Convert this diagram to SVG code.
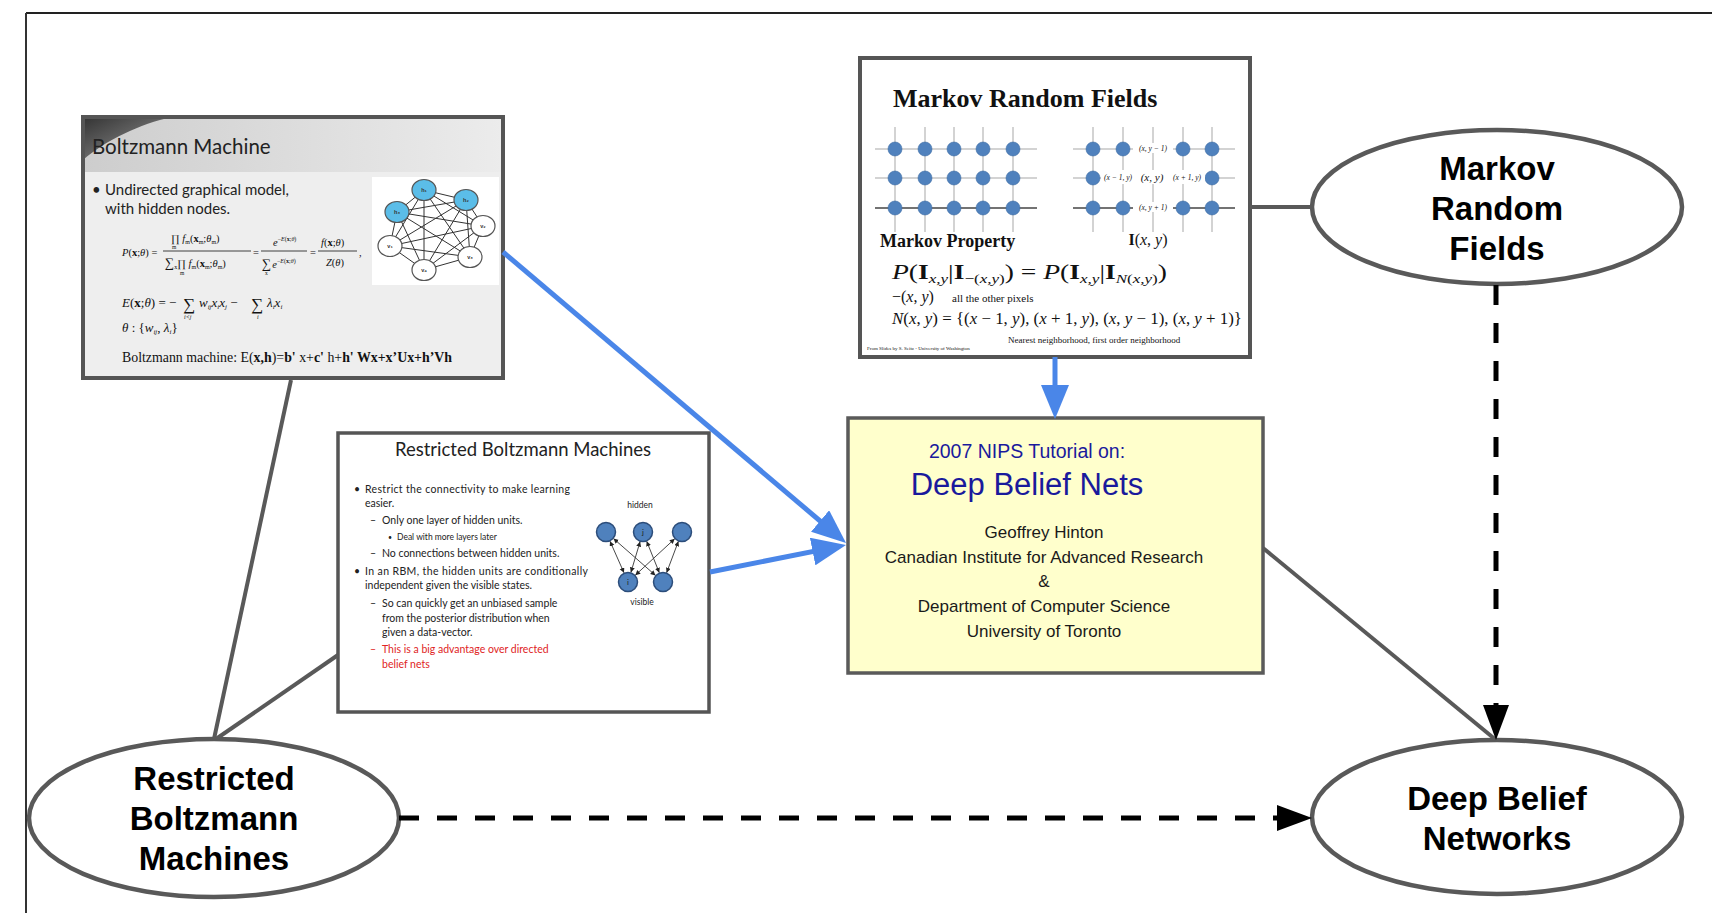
<svg xmlns="http://www.w3.org/2000/svg" width="1712" height="913" viewBox="0 0 1712 913">
<defs>
<style>
.box{fill:none;stroke:#555;stroke-width:4}
.ell{fill:#fff;stroke:#595959;stroke-width:4.5}
.elab{font-family:"Liberation Sans",Arial,sans-serif;font-weight:bold;font-size:33px;fill:#000;text-anchor:middle}
.gray{stroke:#595959;stroke-width:4;fill:none}
.blue{stroke:#4a86e8;stroke-width:5;fill:none}
.dash{stroke:#000;stroke-width:5;stroke-dasharray:20 18;fill:none}
.cal{font-family:Lato,"Open Sans",sans-serif;fill:#222}
.ser{font-family:"Liberation Serif","Times New Roman",serif;fill:#111}
.ar{font-family:"Liberation Sans",Arial,sans-serif}
.it{font-style:italic}
.bd{font-weight:bold}
.gl{stroke:#c4c4c4;stroke-width:1.5}
.gd{stroke:#444;stroke-width:1.5}
.dot{fill:#4f81bd;stroke:#3d6ba3;stroke-width:0.6}
.bmn{stroke:#555;stroke-width:1.2}
.bme{stroke:#333;stroke-width:1}
.rbmn{fill:#4f81bd;stroke:#2c4d7a;stroke-width:1.5}
.rbme{stroke:#333;stroke-width:0.9;fill:none}
</style>
<linearGradient id="bmTitle" x1="0" y1="0" x2="1" y2="0">
<stop offset="0" stop-color="#cdcdcd"/><stop offset="1" stop-color="#ececec"/>
</linearGradient>
<linearGradient id="bmSwoosh" x1="0" y1="0" x2="1" y2="1">
<stop offset="0" stop-color="#333"/><stop offset="1" stop-color="#9a9a9a"/>
</linearGradient>
<marker id="blueHead" markerUnits="userSpaceOnUse" markerWidth="36" markerHeight="28" refX="24" refY="14" orient="auto"><path d="M0,0 L34,14 L0,28 Z" fill="#4a86e8"/></marker>
<marker id="blackHead" markerUnits="userSpaceOnUse" markerWidth="37" markerHeight="28" refX="25" refY="13" orient="auto"><path d="M0,0 L35,13 L0,26 Z" fill="#000"/></marker>
<marker id="tiny" markerUnits="userSpaceOnUse" markerWidth="6" markerHeight="6" refX="5" refY="2.5" orient="auto-start-reverse"><path d="M0,0 L5,2.5 L0,5 Z" fill="#222"/></marker>
</defs>
<rect width="1712" height="913" fill="#fff"/>
<g id="frame">
<line x1="26" y1="13" x2="1712" y2="13" stroke="#222" stroke-width="2"/>
<line x1="26" y1="13" x2="26" y2="913" stroke="#333" stroke-width="2"/>
</g>

<g id="node-boltzmann-slide">
<rect x="83" y="117" width="420" height="261" fill="#eeeeee"/>
<rect x="83" y="117" width="420" height="55" fill="url(#bmTitle)"/>
<path d="M83,117 H172 C140,124 106,140 83,160 Z" fill="url(#bmSwoosh)"/>
<rect x="372" y="177" width="127" height="108" fill="#fff"/>
<g class="bme">
<line x1="424" y1="190" x2="466" y2="200"/><line x1="424" y1="190" x2="397" y2="212"/><line x1="424" y1="190" x2="483" y2="226"/><line x1="424" y1="190" x2="390" y2="246"/><line x1="424" y1="190" x2="470" y2="257"/><line x1="424" y1="190" x2="424" y2="270"/>
<line x1="466" y1="200" x2="397" y2="212"/><line x1="466" y1="200" x2="483" y2="226"/><line x1="466" y1="200" x2="390" y2="246"/><line x1="466" y1="200" x2="470" y2="257"/><line x1="466" y1="200" x2="424" y2="270"/>
<line x1="397" y1="212" x2="483" y2="226"/><line x1="397" y1="212" x2="390" y2="246"/><line x1="397" y1="212" x2="470" y2="257"/><line x1="397" y1="212" x2="424" y2="270"/>
<line x1="483" y1="226" x2="390" y2="246"/><line x1="483" y1="226" x2="470" y2="257"/><line x1="483" y1="226" x2="424" y2="270"/>
<line x1="390" y1="246" x2="470" y2="257"/><line x1="390" y1="246" x2="424" y2="270"/>
<line x1="470" y1="257" x2="424" y2="270"/>
</g>
<g class="bmn">
<ellipse cx="424" cy="190" rx="12" ry="10.5" fill="#5bbde8"/>
<ellipse cx="466" cy="200" rx="12" ry="10.5" fill="#5bbde8"/>
<ellipse cx="397" cy="212" rx="12" ry="10.5" fill="#5bbde8"/>
<ellipse cx="483" cy="226" rx="12" ry="10.5" fill="#fff"/>
<ellipse cx="390" cy="246" rx="12" ry="10.5" fill="#fff"/>
<ellipse cx="470" cy="257" rx="12" ry="10.5" fill="#fff"/>
<ellipse cx="424" cy="270" rx="12" ry="10.5" fill="#fff"/>
</g>
<g class="ar bd" font-size="5.5" fill="#333" text-anchor="middle">
<text x="424" y="192">h₁</text><text x="466" y="202">h₂</text><text x="397" y="214">h₃</text>
<text x="483" y="228">v₂</text><text x="390" y="248">v₁</text><text x="470" y="259">v₃</text><text x="424" y="272">v₄</text>
</g>
<text class="cal" x="92" y="154" font-size="20.5" fill="#333">Boltzmann Machine</text>
<text class="cal" x="92" y="195" font-size="15">•</text>
<text class="cal" x="105" y="195" font-size="15">Undirected graphical model,</text>
<text class="cal" x="105" y="214" font-size="15">with hidden nodes.</text>
<g class="ser" font-size="10.5">
<text x="122" y="256"><tspan class="it">P</tspan>(<tspan class="bd">x</tspan>;<tspan class="it">θ</tspan>) =</text>
<text x="171" y="242">∏ <tspan class="it">f</tspan><tspan font-size="6" dy="2">m</tspan><tspan dy="-2">(</tspan><tspan class="bd">x</tspan><tspan font-size="6" dy="2">m</tspan><tspan dy="-2">;</tspan><tspan class="it">θ</tspan><tspan font-size="6" dy="2">m</tspan><tspan dy="-2">)</tspan></text>
<text x="172" y="249" font-size="5.5">m</text>
<line x1="163" y1="251" x2="251" y2="251" stroke="#111" stroke-width="0.8"/>
<text x="165" y="267"><tspan font-size="13">∑</tspan><tspan font-size="6" dy="2">x</tspan><tspan dy="-2">∏ </tspan><tspan class="it">f</tspan><tspan font-size="6" dy="2">m</tspan><tspan dy="-2">(</tspan><tspan class="bd">x</tspan><tspan font-size="6" dy="2">m</tspan><tspan dy="-2">;</tspan><tspan class="it">θ</tspan><tspan font-size="6" dy="2">m</tspan><tspan dy="-2">)</tspan></text>
<text x="180" y="275" font-size="5.5">m</text>
<text x="253" y="256">=</text>
<text x="273" y="246"><tspan class="it">e</tspan><tspan font-size="6" dy="-5">−<tspan class="it">E</tspan>(<tspan class="bd">x</tspan>;<tspan class="it">θ</tspan>)</tspan></text>
<line x1="261" y1="251" x2="307" y2="251" stroke="#111" stroke-width="0.8"/>
<text x="262" y="268"><tspan font-size="13">∑</tspan><tspan class="it" dx="1">e</tspan><tspan font-size="6" dy="-5">−<tspan class="it">E</tspan>(<tspan class="bd">x</tspan>;<tspan class="it">θ</tspan>)</tspan></text>
<text x="265" y="275" font-size="5.5">x</text>
<text x="310" y="256">=</text>
<text x="321" y="246"><tspan class="it">f</tspan>(<tspan class="bd">x</tspan>;<tspan class="it">θ</tspan>)</text>
<line x1="318" y1="251" x2="357" y2="251" stroke="#111" stroke-width="0.8"/>
<text x="326" y="266"><tspan class="it">Z</tspan>(<tspan class="it">θ</tspan>)</text>
<text x="359" y="256">,</text>
</g>
<g class="ser" font-size="13">
<text x="122" y="307"><tspan class="it">E</tspan>(<tspan class="bd">x</tspan>;<tspan class="it">θ</tspan>) = −</text>
<text x="183" y="310" font-size="17">∑</text>
<text x="199" y="307"><tspan class="it">w</tspan><tspan font-size="7" dy="2" class="it">ij</tspan><tspan class="it" dy="-2">x</tspan><tspan font-size="7" dy="2" class="it">i</tspan><tspan class="it" dy="-2">x</tspan><tspan font-size="7" dy="2" class="it">j</tspan><tspan dy="-2"> −</tspan></text>
<text x="251" y="310" font-size="17">∑</text>
<text x="267" y="307"><tspan class="it">λ</tspan><tspan font-size="7" dy="2" class="it">i</tspan><tspan class="it" dy="-2">x</tspan><tspan font-size="7" dy="2" class="it">i</tspan></text>
<text x="184" y="319" font-size="6" class="it">i&lt;j</text>
<text x="257" y="319" font-size="6" class="it">i</text>
<text x="122" y="332"><tspan class="it">θ</tspan> : {<tspan class="it">w</tspan><tspan font-size="7" dy="2" class="it">ij</tspan><tspan dy="-2">, </tspan><tspan class="it">λ</tspan><tspan font-size="7" dy="2" class="it">i</tspan><tspan dy="-2">}</tspan></text>
</g>
<text class="ser" x="122" y="362" font-size="14" textLength="330" lengthAdjust="spacingAndGlyphs">Boltzmann machine: E(<tspan class="bd">x,h</tspan>)=<tspan class="bd">b'</tspan> x+<tspan class="bd">c'</tspan> h+<tspan class="bd">h' Wx+x’Ux+h’Vh</tspan></text>
<rect x="83" y="117" width="420" height="261" class="box"/>
</g>

<g id="node-rbm-slide">
<rect x="338" y="433" width="371" height="279" fill="#fff" stroke="#555" stroke-width="3.5"/>
<text class="cal" x="523" y="456" font-size="18.5" text-anchor="middle">Restricted Boltzmann Machines</text>
<g class="cal" font-size="10.5">
<text x="354" y="493">•</text><text x="365" y="493" textLength="205">Restrict the connectivity to make learning</text>
<text x="365" y="507">easier.</text>
<text x="370" y="524">–</text><text x="382" y="524">Only one layer of hidden units.</text>
<text x="388" y="540" font-size="7">•</text><text x="397" y="540" font-size="8.5">Deal with more layers later</text>
<text x="370" y="557">–</text><text x="382" y="557">No connections between hidden units.</text>
<text x="354" y="575">•</text><text x="365" y="575" textLength="223">In an RBM, the hidden units are conditionally</text>
<text x="365" y="589">independent given the visible states.</text>
<text x="370" y="607">–</text><text x="382" y="607">So can quickly get an unbiased sample</text>
<text x="382" y="622">from the posterior distribution when</text>
<text x="382" y="636">given a data-vector.</text>
<text x="370" y="653" fill="#e02424">–</text><text x="382" y="653" fill="#e02424">This is a big advantage over directed</text>
<text x="382" y="668" fill="#e02424">belief nets</text>
</g>
<text class="cal" x="640" y="508" font-size="8.5" fill="#5555b5" text-anchor="middle">hidden</text>
<text class="cal" x="642" y="605" font-size="8.5" fill="#5555b5" text-anchor="middle">visible</text>
<g class="rbme" marker-start="url(#tiny)" marker-end="url(#tiny)">
<line x1="610" y1="541.2" x2="624" y2="572.8" marker-start="url(#tiny)" marker-end="url(#tiny)"/>
<line x1="613.5" y1="538.6" x2="655.5" y2="575.4" marker-start="url(#tiny)" marker-end="url(#tiny)"/>
<line x1="640.1" y1="541.6" x2="630.9" y2="572.4" marker-start="url(#tiny)" marker-end="url(#tiny)"/>
<line x1="646.7" y1="541.3" x2="659.3" y2="572.7" marker-start="url(#tiny)" marker-end="url(#tiny)"/>
<line x1="674.7" y1="538.8" x2="635.3" y2="575.2" marker-start="url(#tiny)" marker-end="url(#tiny)"/>
<line x1="678.4" y1="541.3" x2="666.6" y2="572.7" marker-start="url(#tiny)" marker-end="url(#tiny)"/>
</g>
<circle class="rbmn" cx="606" cy="532" r="9.5"/>
<circle class="rbmn" cx="643" cy="532" r="9.5"/>
<circle class="rbmn" cx="682" cy="532" r="9.5"/>
<circle class="rbmn" cx="628" cy="582" r="9.5"/>
<circle class="rbmn" cx="663" cy="582" r="9.5"/>
<text class="cal" x="643" y="535" font-size="8" fill="#5555b5" text-anchor="middle">j</text>
<text class="cal" x="628" y="585" font-size="8" fill="#5555b5" text-anchor="middle">i</text>
</g>

<g id="node-mrf-slide">
<rect x="860" y="58" width="390" height="299" fill="#fff"/>
<text class="ser bd" x="893" y="107" font-size="26" fill="#000">Markov Random Fields</text>
<g>
<line class="gl" x1="875" y1="149" x2="1037" y2="149"/><line class="gl" x1="875" y1="178" x2="1037" y2="178"/><line class="gd" x1="875" y1="208" x2="1037" y2="208"/>
<line class="gl" x1="895" y1="127" x2="895" y2="232"/><line class="gl" x1="925" y1="127" x2="925" y2="232"/><line class="gl" x1="954" y1="127" x2="954" y2="232"/><line class="gl" x1="983" y1="127" x2="983" y2="232"/><line class="gl" x1="1013" y1="127" x2="1013" y2="232"/>
<line class="gl" x1="1073" y1="149" x2="1235" y2="149"/><line class="gl" x1="1073" y1="178" x2="1235" y2="178"/><line class="gd" x1="1073" y1="208" x2="1235" y2="208"/>
<line class="gl" x1="1093" y1="127" x2="1093" y2="232"/><line class="gl" x1="1123" y1="127" x2="1123" y2="232"/><line class="gl" x1="1153" y1="127" x2="1153" y2="232"/><line class="gl" x1="1183" y1="127" x2="1183" y2="232"/><line class="gl" x1="1212" y1="127" x2="1212" y2="232"/>
</g>
<g class="dot">
<circle cx="895" cy="149" r="7"/><circle cx="925" cy="149" r="7"/><circle cx="954" cy="149" r="7"/><circle cx="983" cy="149" r="7"/><circle cx="1013" cy="149" r="7"/>
<circle cx="895" cy="178" r="7"/><circle cx="925" cy="178" r="7"/><circle cx="954" cy="178" r="7"/><circle cx="983" cy="178" r="7"/><circle cx="1013" cy="178" r="7"/>
<circle cx="895" cy="208" r="7"/><circle cx="925" cy="208" r="7"/><circle cx="954" cy="208" r="7"/><circle cx="983" cy="208" r="7"/><circle cx="1013" cy="208" r="7"/>
<circle cx="1093" cy="149" r="7"/><circle cx="1123" cy="149" r="7"/><circle cx="1183" cy="149" r="7"/><circle cx="1212" cy="149" r="7"/>
<circle cx="1093" cy="178" r="7"/><circle cx="1212" cy="178" r="7"/>
<circle cx="1093" cy="208" r="7"/><circle cx="1123" cy="208" r="7"/><circle cx="1183" cy="208" r="7"/><circle cx="1212" cy="208" r="7"/>
</g>
<rect x="1133" y="143" width="40" height="10" fill="#fff"/>
<rect x="1133" y="202" width="40" height="10" fill="#fff"/>
<rect x="1101" y="170" width="104" height="14" fill="#fff"/>
<g class="ser it" font-size="7.5" fill="#555" text-anchor="middle">
<text x="1153" y="151">(x, y − 1)</text>
<text x="1153" y="210">(x, y + 1)</text>
<text x="1118" y="180">(x − 1, y)</text>
<text x="1187" y="180">(x + 1, y)</text>
</g>
<text class="ser it" x="1152" y="181" font-size="11" text-anchor="middle" fill="#333">(x, y)</text>
<text class="ser" x="1148" y="245" font-size="16" text-anchor="middle"><tspan class="bd">I</tspan>(<tspan class="it">x</tspan>, <tspan class="it">y</tspan>)</text>
<text class="ser bd" x="880" y="247" font-size="18" fill="#000">Markov Property</text>
<text class="ser" x="892" y="279" font-size="21" textLength="275" lengthAdjust="spacingAndGlyphs"><tspan class="it">P</tspan>(<tspan class="bd">I</tspan><tspan class="it" font-size="13" dy="4">x,y</tspan><tspan dy="-4">|</tspan><tspan class="bd">I</tspan><tspan font-size="13" dy="4">−(<tspan class="it">x,y</tspan>)</tspan><tspan dy="-4">) = </tspan><tspan class="it">P</tspan>(<tspan class="bd">I</tspan><tspan class="it" font-size="13" dy="4">x,y</tspan><tspan dy="-4">|</tspan><tspan class="bd">I</tspan><tspan font-size="13" dy="4"><tspan class="it">N</tspan>(<tspan class="it">x,y</tspan>)</tspan><tspan dy="-4">)</tspan></text>
<text class="ser" x="892" y="302" font-size="16">−(<tspan class="it">x</tspan>, <tspan class="it">y</tspan>)</text>
<text class="ser" x="952" y="302" font-size="11">all the other pixels</text>
<text class="ser" x="892" y="324" font-size="17" textLength="350" lengthAdjust="spacingAndGlyphs"><tspan class="it">N</tspan>(<tspan class="it">x</tspan>, <tspan class="it">y</tspan>) = {(<tspan class="it">x</tspan> − 1, <tspan class="it">y</tspan>), (<tspan class="it">x</tspan> + 1, <tspan class="it">y</tspan>), (<tspan class="it">x</tspan>, <tspan class="it">y</tspan> − 1), (<tspan class="it">x</tspan>, <tspan class="it">y</tspan> + 1)}</text>
<text class="ser" x="1008" y="343" font-size="9" fill="#333">Nearest neighborhood, first order neighborhood</text>
<text class="ser" x="867" y="350" font-size="5" fill="#444">From Slides by S. Seitz - University of Washington</text>
<rect x="860" y="58" width="390" height="299" class="box"/>
</g>

<g id="node-dbn-slide">
<rect x="848" y="418" width="415" height="255" fill="#ffffcc" stroke="#5a5a5a" stroke-width="3.5"/>
<g class="ar" text-anchor="middle">
<text x="1027" y="458" font-size="19.5" fill="#1a1a9c">2007 NIPS Tutorial on:</text>
<text x="1027" y="495" font-size="31" fill="#1a1a9c">Deep Belief Nets</text>
<g font-size="17" fill="#1a1a1a">
<text x="1044" y="538">Geoffrey Hinton</text>
<text x="1044" y="563">Canadian Institute for Advanced Research</text>
<text x="1044" y="587">&amp;</text>
<text x="1044" y="612">Department of Computer Science</text>
<text x="1044" y="637">University of Toronto</text>
</g>
</g>
</g>

<g id="node-mrf">
<ellipse class="ell" cx="1497" cy="207" rx="185" ry="77"/>
<text class="elab" x="1497" y="180">Markov</text>
<text class="elab" x="1497" y="220">Random</text>
<text class="elab" x="1497" y="260">Fields</text>
</g>
<g id="node-dbn">
<ellipse class="ell" cx="1497" cy="817" rx="185" ry="77"/>
<text class="elab" x="1497" y="810">Deep Belief</text>
<text class="elab" x="1497" y="850">Networks</text>
</g>
<g id="node-rbm">
<ellipse class="ell" cx="214" cy="818" rx="185" ry="79"/>
<text class="elab" x="214" y="790">Restricted</text>
<text class="elab" x="214" y="830">Boltzmann</text>
<text class="elab" x="214" y="870">Machines</text>
</g>

<g id="connectors">
<line class="gray" x1="291" y1="380" x2="214" y2="739"/>
<line class="gray" x1="338" y1="655" x2="216" y2="739"/>
<line class="gray" x1="1250" y1="207" x2="1312" y2="207"/>
<line class="gray" x1="1263" y1="548" x2="1496" y2="740"/>
<line class="blue" x1="503" y1="252" x2="838.4" y2="536.5" marker-end="url(#blueHead)"/>
<line class="blue" x1="710" y1="572" x2="836.2" y2="546.9" marker-end="url(#blueHead)"/>
<line class="blue" x1="1055" y1="357" x2="1055" y2="409" marker-end="url(#blueHead)"/>
<line class="dash" x1="1496" y1="285" x2="1496" y2="730" marker-end="url(#blackHead)"/>
<line class="dash" x1="399" y1="818" x2="1302" y2="818" marker-end="url(#blackHead)"/>
</g>
</svg>
